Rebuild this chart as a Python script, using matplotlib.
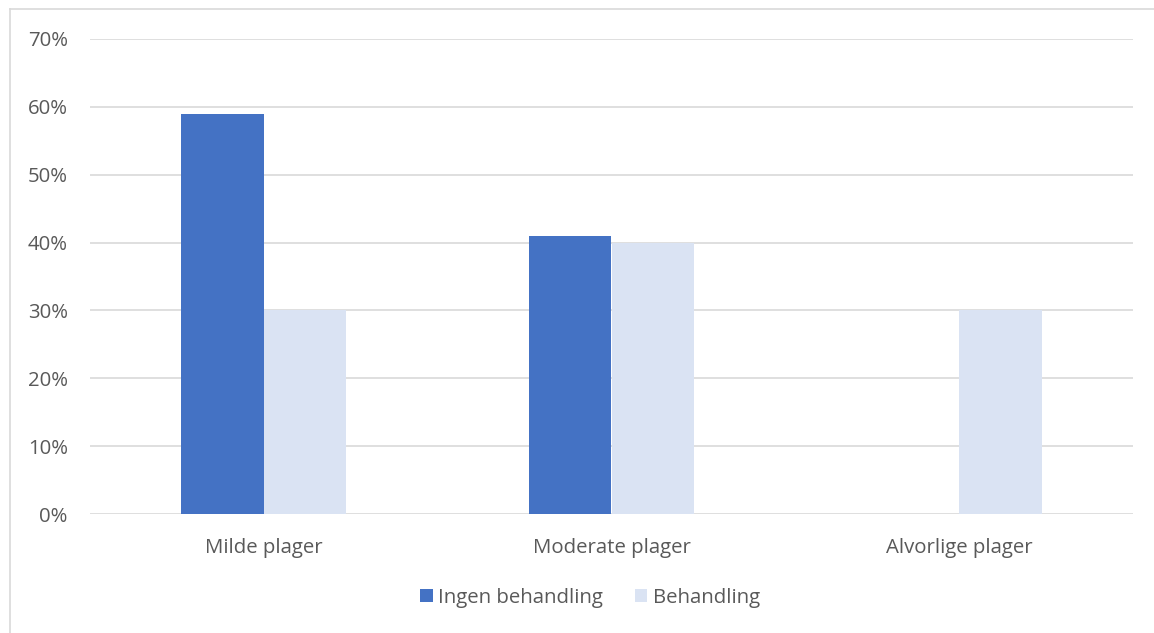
import numpy as np
import matplotlib.pyplot as plt
from matplotlib.lines import Line2D

# Data
categories = ['Milde plager', 'Moderate plager', 'Alvorlige plager']
series_names = ['Ingen behandling', 'Behandling']
ingen = [59, 41, 0]
behandling = [30, 40, 30]
yticks = [0, 10, 20, 30, 40, 50, 60, 70]

plt.rcParams['font.family'] = ['Open Sans', 'DejaVu Sans']

W, H = 1154, 633
fig = plt.figure(figsize=(W / 100, H / 100), dpi=100)
ax = fig.add_axes([90 / W, (H - 514) / H, (1133 - 90) / W, (514 - 39) / H])

x = np.arange(len(categories))
bw = 0.237
ax.bar(x - bw / 2, ingen, bw, color='#4472C4', label=series_names[0], zorder=3)
ax.bar(x + bw / 2, behandling, bw, color='#DAE3F3', label=series_names[1], zorder=3)

ax.set_xlim(-0.5, len(categories) - 0.5)
ax.set_ylim(0, 70)
ax.set_yticks(yticks)
ax.set_yticklabels([f'{v}%' for v in yticks])
ax.set_xticks(x)
ax.set_xticklabels(categories)
ax.grid(axis='y', color='#D9D9D9', linewidth=1.2, zorder=0)
for s in ax.spines.values():
    s.set_visible(False)
ax.tick_params(length=0, labelsize=14.7, labelcolor='#595959')
ax.tick_params(axis='y', pad=16)
ax.tick_params(axis='x', pad=17)

leg = fig.legend(loc='center', bbox_to_anchor=(590 / W, (H - 598) / H), ncol=2,
                 frameon=False, fontsize=14.7, handlelength=0.6, handleheight=0.6,
                 handletextpad=0.25, columnspacing=1.6)
for t in leg.get_texts():
    t.set_color('#595959')

# chart area border (partly cropped in the reference)
fig.add_artist(Line2D([10 / W, 1], [(H - 9) / H, (H - 9) / H], color='#D9D9D9', lw=1.2))
fig.add_artist(Line2D([10 / W, 10 / W], [0, (H - 9) / H], color='#D9D9D9', lw=1.2))

fig.savefig('out.png', dpi=100)
